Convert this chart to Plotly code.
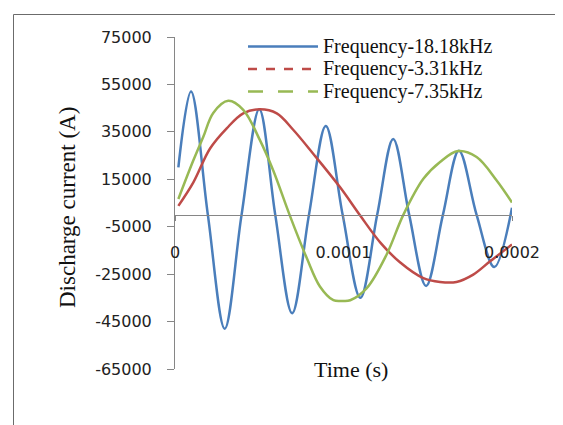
import numpy as np
import plotly.graph_objects as go

# ---- data (time in microseconds, current in A) ----
series_names = ["Frequency-18.18kHz", "Frequency-3.31kHz", "Frequency-7.35kHz"]
series_colors = ["#4A7EBB", "#BE4B48", "#98B954"]
legend_dash = ["solid", "dash", "longdash"]

t_blue_us = [2, 9.5, 19.5, 29.5, 39.5, 50, 59.5, 69.5, 79.5, 89.5, 99.5,
             110, 120, 129.5, 139, 149, 159, 168.5, 179, 189.5, 200]
i_blue = [20000, 52000, 0, -48000, 0, 44500, 0, -41500, 0, 37500, 0,
          -35000, 0, 32000, 0, -30000, 0, 27000, 0, -22000, 3000]

t_red_us = [2, 10.9, 20.8, 30.7, 40.5, 50.4, 60.4, 70, 82, 98, 110, 122,
            133.5, 147.4, 157.3, 167, 177, 187, 200]
i_red = [3800, 13700, 28000, 36500, 42800, 44500, 42800, 36000, 25800, 11600,
         -400, -11800, -20000, -26700, -28300, -28300, -25200, -19600, -12500]

t_green_us = [2, 10.9, 16.8, 22.7, 31.6, 40.5, 50.4, 58.3, 68, 78.2, 86, 94,
              99.5, 104, 113.8, 125.6, 135.5, 147.4, 157.3, 168, 179, 190.9, 200]
i_green = [6700, 23000, 32900, 43000, 48100, 44300, 31500, 18700, 0, -18200,
           -30200, -36000, -36300, -36000, -30900, -16700, 0, 15200, 22300,
           26900, 24400, 14500, 5200]

y_ticks = [-65000, -45000, -25000, -5000, 15000, 35000, 55000, 75000]
x_ticks = [0, 0.0001, 0.0002]
x_ticktext = ["0", "0.0001", "0.0002"]

x_title = "Time (s)"
y_title = "Discharge current (A)"

# ---- figure ----
W, H = 563, 425
OFF = 8  # page body margin
L, T = 175 - OFF, 37 - OFF
R = W - (512 - OFF)
B = H - (369 - OFF)
pw, ph = W - L - R, H - T - B

def px_x(p):
    return (p - OFF - L) / pw

def px_y(p):
    return (H - B - (p - OFF)) / ph

fig = go.Figure()
series = [(t_blue_us, i_blue), (t_red_us, i_red), (t_green_us, i_green)]
for (tt, ii), name, col in zip(series, series_names, series_colors):
    fig.add_trace(go.Scatter(
        x=np.array(tt) * 1e-6, y=ii, mode="lines", name=name,
        line=dict(color=col, width=2.5, shape="spline", smoothing=1.0),
        showlegend=False, hoverinfo="skip"))

serif = "Liberation Serif"
sans = "DejaVu Sans"

fig.update_layout(
    width=W, height=H,
    margin=dict(l=L, r=R, t=T, b=B, pad=0, autoexpand=False),
    paper_bgcolor="white", plot_bgcolor="white",
    showlegend=False,
    xaxis=dict(
        range=[0, 0.0002], anchor="free", automargin=False,
        position=(0 - y_ticks[0]) / (y_ticks[-1] - y_ticks[0]),
        tickvals=x_ticks, ticktext=x_ticktext,
        showgrid=False, zeroline=False,
        showline=True, linecolor="#868686", linewidth=1,
        ticks="outside", ticklen=5, tickcolor="#868686",
        ticklabelstandoff=18,
        tickfont=dict(family=sans, size=16, color="#222222"),
    ),
    yaxis=dict(
        range=[y_ticks[0], y_ticks[-1]], automargin=False,
        tickvals=y_ticks, ticktext=[str(v) for v in y_ticks],
        showgrid=False, zeroline=False,
        showline=True, linecolor="#868686", linewidth=1,
        ticks="outside", ticklen=7, tickcolor="#868686",
        ticklabelstandoff=12,
        tickfont=dict(family=sans, size=16, color="#222222"),
    ),
)

shapes = [dict(type="rect", xref="paper", yref="paper",
               x0=px_x(13.5), x1=px_x(640), y0=px_y(500), y1=px_y(14.5),
               line=dict(color="#6b6b6b", width=1), fillcolor="rgba(0,0,0,0)",
               layer="below")]
annotations = [
    dict(text=x_title, xref="paper", yref="paper", x=px_x(351), y=px_y(369),
         xanchor="center", yanchor="middle", showarrow=False,
         font=dict(family=serif, size=22, color="#111111")),
    dict(text=y_title, xref="paper", yref="paper", x=px_x(68), y=px_y(207),
         xanchor="center", yanchor="middle", showarrow=False, textangle=-90,
         font=dict(family=serif, size=23, color="#111111")),
]

# manual legend (sample lines are dashed in the original legend)
rows_px = [46.5, 69.0, 91.5]
for name, col, dash, ry in zip(series_names, series_colors, legend_dash, rows_px):
    shapes.append(dict(type="line", xref="paper", yref="paper",
                       x0=px_x(248), x1=px_x(318), y0=px_y(ry), y1=px_y(ry),
                       line=dict(color=col, width=2.5, dash=dash)))
    annotations.append(dict(text=name, xref="paper", yref="paper",
                            x=px_x(321), y=px_y(ry), xanchor="left",
                            yanchor="middle", showarrow=False,
                            font=dict(family=serif, size=20, color="#111111")))

fig.update_layout(shapes=shapes, annotations=annotations)
fig.write_html("out.html")
